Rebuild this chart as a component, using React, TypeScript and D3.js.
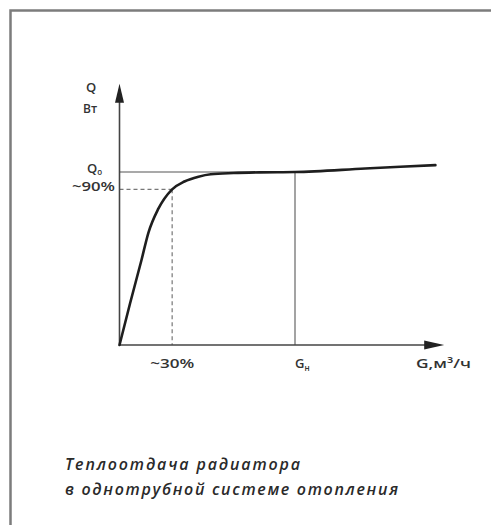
import React from 'react';
import * as d3 from 'd3';

// Relative flow G (% of nominal Gн) vs relative heat output Q (% of nominal Q0)
const flowPct = [0, 6, 12.5, 16.5, 22, 30, 37, 45, 52, 65, 80, 100, 140, 180];
const heatPct = [0, 24, 49, 65, 78.5, 90, 94.5, 97.3, 98.7, 99.4, 99.8, 100, 102, 104];
const refFlow = 30; // ~30%
const refHeat = 90; // ~90%
const nominal = 100; // Gн / Q0
const xAxisMax = 185;
const yAxisMax = 151;
const captionLines = ['Теплоотдача радиатора', 'в однотрубной системе отопления'];

export default function App() {
  const x = d3.scaleLinear().domain([0, 100]).range([119.5, 295]);
  const y = d3.scaleLinear().domain([0, 100]).range([345, 172]);
  const pts: [number, number][] = flowPct.map((g, i) => [g, heatPct[i]]);
  const line = d3
    .line<[number, number]>()
    .x((d) => x(d[0]))
    .y((d) => y(d[1]))
    .curve(d3.curveMonotoneX);

  const x0 = x(0);
  const y0 = y(0);
  const xEnd = x(xAxisMax);
  const yEnd = y(yAxisMax);
  const font = "'Open Sans', 'DejaVu Sans', sans-serif";
  const txt = '#333';

  return (
    <svg
      width={491}
      height={525}
      style={{ position: 'absolute', left: 0, top: 0, background: '#fff' }}
    >
      {/* frame */}
      <path d="M10.5,525 V10.5 H491" fill="none" stroke="#7c7c7c" strokeWidth={2.5} />

      {/* reference lines */}
      <line x1={x0} x2={x(nominal)} y1={y(nominal)} y2={y(nominal)} stroke="#555" strokeWidth={1.2} />
      <line x1={x(nominal)} x2={x(nominal)} y1={y(nominal)} y2={y0} stroke="#666" strokeWidth={1.2} />
      <line x1={x0} x2={x(refFlow)} y1={y(refHeat)} y2={y(refHeat)} stroke="#777" strokeWidth={1.2} strokeDasharray="4,3" />
      <line x1={x(refFlow)} x2={x(refFlow)} y1={y(refHeat)} y2={y0} stroke="#777" strokeWidth={1.2} strokeDasharray="4,3" />

      {/* axes */}
      <line x1={x0} x2={x0} y1={y0} y2={yEnd + 10} stroke="#444" strokeWidth={1.6} />
      <path d={`M${x0},${yEnd} L${x0 - 4.5},${yEnd + 19} L${x0 + 4.5},${yEnd + 19} Z`} fill="#222" />
      <line x1={x0} x2={xEnd - 10} y1={y0} y2={y0} stroke="#444" strokeWidth={1.6} />
      <path d={`M${xEnd},${y0} L${xEnd - 20},${y0 - 4.5} L${xEnd - 20},${y0 + 4.5} Z`} fill="#222" />

      {/* curve */}
      <path d={line(pts) || ''} fill="none" stroke="#1e1e1e" strokeWidth={2.6} strokeLinecap="round" />

      {/* labels */}
      <g fontFamily={font} fill={txt} fontWeight={600}>
        <text x={86} y={92} fontSize={13}>Q</text>
        <text x={83} y={113} fontSize={12}>Вт</text>
        <text x={87} y={y(nominal) + 1} fontSize={13}>
          Q<tspan fontSize={8} dy={2}>о</tspan>
        </text>
        <text x={72} y={y(refHeat) + 2} fontSize={12} textLength={43} lengthAdjust="spacingAndGlyphs">~90%</text>
        <text x={x(refFlow)} y={368} fontSize={12} textAnchor="middle" textLength={44} lengthAdjust="spacingAndGlyphs">~30%</text>
        <text x={x(nominal)} y={368} fontSize={13}>
          G<tspan fontSize={8} dy={3}>н</tspan>
        </text>
        <text x={416} y={368} fontSize={13} textLength={55} lengthAdjust="spacingAndGlyphs">G,м³/ч</text>
      </g>

      {/* caption */}
      <g fontFamily={font} fill="#2a2a2a" fontStyle="italic" fontWeight={600} fontSize={16}>
        <text x={65} y={470} textLength={235} lengthAdjust="spacing">{captionLines[0]}</text>
        <text x={65} y={495} textLength={333} lengthAdjust="spacing">{captionLines[1]}</text>
      </g>
    </svg>
  );
}
